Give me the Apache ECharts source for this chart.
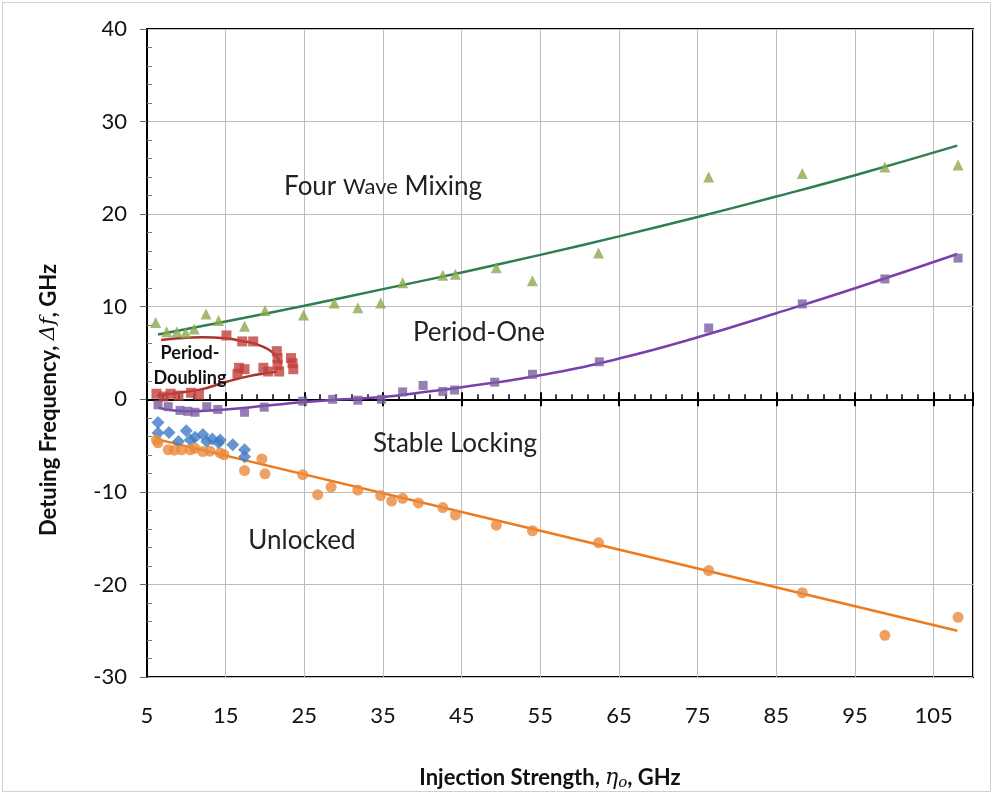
<!DOCTYPE html>
<html>
<head>
<meta charset="utf-8">
<title>Injection locking map</title>
<script src="https://cdn.jsdelivr.net/npm/echarts@6/dist/echarts.min.js"></script>
<style>
  html, body { margin: 0; padding: 0; background: #fff; }
  #chart { width: 995px; height: 796px; }
</style>
</head>
<body>
<div id="chart"></div>
<script>
// Axis ticks
const xTickValues = [5, 15, 25, 35, 45, 55, 65, 75, 85, 95, 105];
const yTickValues = [-30, -20, -10, 0, 10, 20, 30, 40];

// Four-wave mixing boundary (measured)
const fwmX = [6.1, 7.5, 8.8, 9.9, 11.0, 12.5, 14.1, 17.4, 20.0, 24.9, 28.8, 31.8, 34.7, 37.5, 42.6, 44.2, 49.4, 54.0, 62.4, 76.4, 88.3, 98.8, 108.1];
const fwmY = [8.3, 7.3, 7.3, 7.2, 7.6, 9.2, 8.5, 7.9, 9.6, 9.1, 10.4, 9.9, 10.4, 12.6, 13.4, 13.5, 14.2, 12.8, 15.8, 24.0, 24.4, 25.1, 25.3];
// Four-wave mixing trend
const fwmFitX = [6.4, 15, 25, 35, 45, 55, 65, 75, 85, 95, 108];
const fwmFitY = [7.0, 8.4, 10.1, 11.9, 13.7, 15.6, 17.6, 19.7, 21.9, 24.2, 27.4];

// Period-one boundary (measured)
const p1X = [6.4, 7.7, 9.2, 10.2, 11.1, 12.6, 14.0, 17.4, 19.9, 24.8, 28.6, 31.8, 34.8, 37.5, 40.1, 42.6, 44.1, 49.2, 54.0, 62.5, 76.4, 88.3, 98.8, 108.1];
const p1Y = [-0.6, -0.8, -1.2, -1.3, -1.4, -0.8, -1.1, -1.4, -0.85, -0.2, 0.0, -0.1, 0.0, 0.8, 1.5, 0.85, 1.0, 1.85, 2.7, 4.05, 7.7, 10.3, 13.0, 15.25];
// Period-one trend
const p1FitX = [6.4, 10, 15, 20, 25, 30, 35, 40, 45, 55, 65, 75, 85, 95, 108];
const p1FitY = [-0.9, -1.3, -1.1, -0.7, -0.3, 0.0, 0.25, 0.75, 1.3, 2.6, 4.4, 6.7, 9.3, 12.0, 15.7];

// Period-doubling region (measured)
const pdX = [6.2, 7.1, 8.0, 9.0, 10.6, 11.6, 15.1, 17.1, 18.5, 21.5, 21.6, 21.6, 21.8, 23.3, 23.5, 23.6, 16.7, 17.4, 16.5, 19.8, 20.4];
const pdY = [0.6, 0.3, 0.6, 0.4, 0.7, 0.5, 6.9, 6.25, 6.25, 5.2, 4.45, 3.7, 3.0, 4.45, 3.9, 3.25, 3.4, 3.25, 2.75, 3.4, 3.0];
// Period-doubling trends (upper and lower edges)
const pdUpperX = [6.8, 9, 12, 15, 17, 18.7, 20.4, 21.5, 22.0];
const pdUpperY = [6.4, 6.6, 6.7, 6.6, 6.3, 6.0, 5.4, 4.6, 3.8];
const pdLowerX = [6.3, 9, 12, 14, 16, 18, 20, 21.5];
const pdLowerY = [0.4, 0.7, 1.1, 1.6, 2.1, 2.5, 2.8, 3.0];

// Stable-locking lower edge (diamonds)
const slX = [6.4, 6.4, 7.8, 9.0, 10.0, 10.5, 11.1, 12.1, 12.6, 13.3, 14.1, 14.3, 15.9, 17.4, 17.4];
const slY = [-2.5, -3.65, -3.6, -4.55, -3.4, -4.4, -4.1, -3.8, -4.55, -4.3, -4.7, -4.4, -4.9, -5.45, -6.2];

// Unlocking boundary (measured)
const ulX = [6.2, 6.4, 7.7, 8.5, 9.4, 10.5, 11.1, 12.1, 13.0, 14.3, 14.8, 17.4, 19.6, 20.0, 24.8, 26.7, 28.4, 31.8, 34.7, 36.1, 37.5, 39.5, 42.6, 44.2, 49.4, 54.0, 62.4, 76.4, 88.3, 98.8, 108.1];
const ulY = [-4.4, -4.7, -5.45, -5.5, -5.45, -5.45, -5.3, -5.65, -5.6, -5.8, -6.0, -7.7, -6.45, -8.05, -8.15, -10.3, -9.5, -9.8, -10.4, -11.0, -10.7, -11.2, -11.7, -12.5, -13.6, -14.2, -15.5, -18.5, -20.9, -25.5, -23.55];
// Unlocking trend
const ulFitX = [6.2, 55, 108];
const ulFitY = [-4.3, -14.2, -25.0];

const pairs = (xs, ys) => xs.map((x, i) => [x, ys[i]]);

const FONT = 'Lato';
const chart = echarts.init(document.getElementById('chart'), null, { renderer: 'canvas' });

const xCommon = { type: 'value', min: 5, max: 110, interval: 10 };
const yCommon = { type: 'value', min: -30, max: 40, interval: 10 };

const option = {
  animation: false,
  backgroundColor: '#ffffff',
  grid: {
    left: 147, right: 22, top: 29, bottom: 119,
    show: true, borderColor: '#000', borderWidth: 2, backgroundColor: 'transparent'
  },
  xAxis: [
    Object.assign({}, xCommon, {
      position: 'bottom',
      axisLine: { show: false, onZero: false },
      axisTick: { show: false },
      axisLabel: {
        fontFamily: FONT, fontSize: 22, color: '#111', margin: 28,
        formatter: v => (xTickValues.indexOf(v) >= 0 ? String(v) : '')
      },
      splitLine: { show: true, lineStyle: { color: '#bdbdbd', width: 1 } }
    }),
    Object.assign({}, xCommon, {
      position: 'bottom',
      axisLine: { show: true, onZero: true, lineStyle: { color: '#000', width: 2 } },
      axisTick: { show: true, inside: true, length: 7, lineStyle: { color: '#000', width: 2 } },
      minorTick: { show: true, splitNumber: 5, length: 5, lineStyle: { color: '#000', width: 1.5 } },
      axisLabel: { show: false },
      splitLine: { show: false }
    }),
    Object.assign({}, xCommon, {
      position: 'bottom',
      axisLine: { show: false, onZero: true },
      axisTick: { show: true, inside: false, length: 7, lineStyle: { color: '#000', width: 2 } },
      axisLabel: { show: false },
      splitLine: { show: false }
    })
  ],
  yAxis: [
    Object.assign({}, yCommon, {
      position: 'left',
      axisLine: { show: true, onZero: false, lineStyle: { color: '#000', width: 2 } },
      axisTick: { show: true, inside: false, length: 7, lineStyle: { color: '#666' } },
      axisLabel: {
        fontFamily: FONT, fontSize: 22, color: '#111', margin: 20,
        formatter: v => (yTickValues.indexOf(v) >= 0 ? String(v) : '')
      },
      splitLine: { show: true, lineStyle: { color: '#bdbdbd', width: 1 } }
    }),
    Object.assign({}, yCommon, {
      position: 'left',
      axisLine: { show: false, onZero: false },
      axisTick: { show: false, inside: true },
      minorTick: { show: true, splitNumber: 5, length: 5, lineStyle: { color: '#777' } },
      axisLabel: { show: false },
      splitLine: { show: false }
    })
  ],
  series: [
    {
      name: 'Four wave mixing fit', type: 'line', smooth: true, showSymbol: false, silent: true,
      data: pairs(fwmFitX, fwmFitY), lineStyle: { color: '#2f7d52', width: 2.5 }, z: 3
    },
    {
      name: 'Period-one fit', type: 'line', smooth: true, showSymbol: false, silent: true,
      data: pairs(p1FitX, p1FitY), lineStyle: { color: '#7a3fae', width: 2.5 }, z: 3
    },
    {
      name: 'Period-doubling upper fit', type: 'line', smooth: true, showSymbol: false, silent: true,
      data: pairs(pdUpperX, pdUpperY), lineStyle: { color: '#a8322e', width: 2.5 }, z: 3
    },
    {
      name: 'Period-doubling lower fit', type: 'line', smooth: true, showSymbol: false, silent: true,
      data: pairs(pdLowerX, pdLowerY), lineStyle: { color: '#a8322e', width: 2.5 }, z: 3
    },
    {
      name: 'Unlocking fit', type: 'line', smooth: false, showSymbol: false, silent: true,
      data: pairs(ulFitX, ulFitY), lineStyle: { color: '#ec7a1e', width: 2.5 }, z: 3
    },
    {
      name: 'Four wave mixing', type: 'scatter', symbol: 'triangle', symbolSize: 11,
      data: pairs(fwmX, fwmY), itemStyle: { color: '#8da84f' }, z: 4
    },
    {
      name: 'Period-one', type: 'scatter', symbol: 'rect', symbolSize: 9,
      data: pairs(p1X, p1Y), itemStyle: { color: '#7a5ea3' }, z: 4
    },
    {
      name: 'Period-doubling', type: 'scatter', symbol: 'rect', symbolSize: 10,
      data: pairs(pdX, pdY), itemStyle: { color: '#c0413c' }, z: 4
    },
    {
      name: 'Stable locking', type: 'scatter', symbol: 'diamond', symbolSize: 13,
      data: pairs(slX, slY), itemStyle: { color: '#3f7cc4' }, z: 4
    },
    {
      name: 'Unlocked', type: 'scatter', symbol: 'circle', symbolSize: 11,
      data: pairs(ulX, ulY), itemStyle: { color: '#ea8a3c' }, z: 4
    }
  ],
  graphic: [
    { type: 'rect', silent: true, z: -10, shape: { x: 2.5, y: 2.5, width: 988, height: 789 },
      style: { fill: 'none', stroke: '#d0d0d0', lineWidth: 1 } },
    // axis titles
    { type: 'text', silent: true, z: 10, x: 49, y: 400, rotation: Math.PI / 2,
      style: { text: 'Detuing Frequency, {i|Δf}, GHz', fontFamily: FONT, fontSize: 22, fontWeight: 'bold',
        fill: '#111', align: 'center', verticalAlign: 'middle',
        rich: { i: { fontFamily: 'DejaVu Serif', fontStyle: 'italic', fontSize: 21, fill: '#111' } } } },
    { type: 'text', silent: true, z: 10, x: 550, y: 778,
      style: { text: 'Injection Strength, {i|η}{sub|o}, GHz', fontFamily: FONT, fontSize: 22, fontWeight: 'bold',
        fill: '#111', align: 'center', verticalAlign: 'middle',
        rich: {
          i: { fontFamily: 'DejaVu Serif', fontStyle: 'italic', fontSize: 22, fill: '#111' },
          sub: { fontFamily: 'DejaVu Serif', fontStyle: 'italic', fontSize: 15, fill: '#111', padding: [10, 0, 0, 0] }
        } } },
    // region labels
    { type: 'text', silent: true, z: 10, x: 383, y: 187,
      style: { text: 'Four {w|Wave} Mixing', fontFamily: FONT, fontSize: 26, fill: '#222',
        align: 'center', verticalAlign: 'middle',
        rich: { w: { fontFamily: FONT, fontSize: 22, fill: '#222' } } } },
    { type: 'text', silent: true, z: 10, x: 479, y: 333,
      style: { text: 'Period-One', fontFamily: FONT, fontSize: 26, fill: '#222', align: 'center', verticalAlign: 'middle' } },
    { type: 'text', silent: true, z: 10, x: 190, y: 366,
      style: { text: 'Period-\nDoubling', fontFamily: FONT, fontSize: 18, fontWeight: 'bold', lineHeight: 25,
        fill: '#111', align: 'center', verticalAlign: 'middle' } },
    { type: 'text', silent: true, z: 10, x: 455, y: 444,
      style: { text: 'Stable Locking', fontFamily: FONT, fontSize: 26, fill: '#222', align: 'center', verticalAlign: 'middle' } },
    { type: 'text', silent: true, z: 10, x: 302, y: 541,
      style: { text: 'Unlocked', fontFamily: FONT, fontSize: 26, fill: '#222', align: 'center', verticalAlign: 'middle' } }
  ]
};

chart.setOption(option);
</script>
</body>
</html>
